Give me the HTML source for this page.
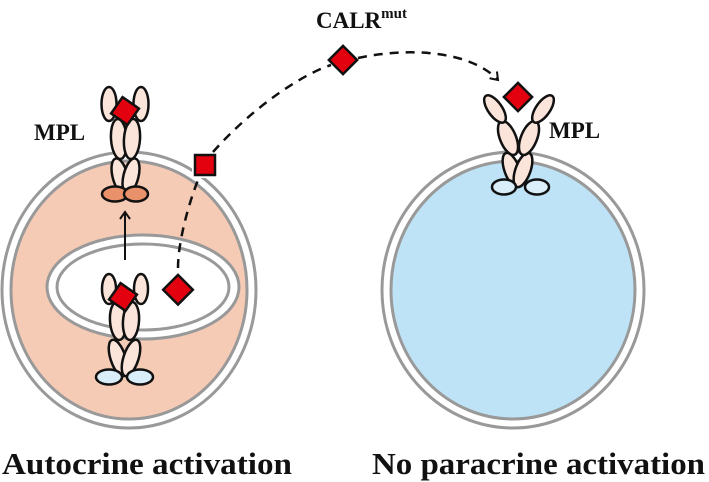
<!DOCTYPE html>
<html><head><meta charset="utf-8"><style>
html,body{margin:0;padding:0;background:#fff;width:709px;height:482px;overflow:hidden}
svg{display:block}
text{font-family:"Liberation Serif",serif;font-weight:bold;fill:#111}
</style></head><body>
<svg width="709" height="482" viewBox="0 0 709 482" xmlns="http://www.w3.org/2000/svg">
<defs>
<marker id="ah" markerWidth="12" markerHeight="12" refX="8" refY="6" orient="auto" markerUnits="userSpaceOnUse">
<path d="M1,1 L8,6 L1,11" fill="none" stroke="#111" stroke-width="2"/>
</marker>
</defs>
<!-- left cell -->
<ellipse cx="129" cy="290" rx="127" ry="138" fill="#fff" stroke="#999" stroke-width="3"/>
<ellipse cx="129" cy="290" rx="118" ry="129" fill="#f6cbb5" stroke="#999" stroke-width="3"/>
<ellipse cx="143" cy="287" rx="96" ry="52" fill="#fff" stroke="#999" stroke-width="3"/>
<ellipse cx="143" cy="287" rx="86" ry="43" fill="#fff" stroke="#999" stroke-width="3"/>
<!-- right cell -->
<ellipse cx="513" cy="290" rx="131" ry="138" fill="#fff" stroke="#999" stroke-width="3"/>
<ellipse cx="513" cy="290" rx="122" ry="129" fill="#bfe3f6" stroke="#999" stroke-width="3"/>

<g stroke="#111" stroke-width="2.5" fill="#fbe5da">
<!-- top-left receptor -->
<ellipse cx="120" cy="176" rx="7.5" ry="18" transform="rotate(-14 120 176)"/>
<ellipse cx="131" cy="176" rx="7.5" ry="18" transform="rotate(14 131 176)"/>
<ellipse cx="119" cy="139" rx="8" ry="20" transform="rotate(-4 119 139)"/>
<ellipse cx="132" cy="139" rx="8" ry="20" transform="rotate(4 132 139)"/>
<ellipse cx="109" cy="104" rx="7.5" ry="17"/>
<ellipse cx="141" cy="104" rx="7.5" ry="17"/>
<ellipse cx="115" cy="194" rx="13" ry="7.5" fill="#e9916a"/>
<ellipse cx="136" cy="194" rx="12" ry="7.5" fill="#e9916a"/>
<!-- bottom-left receptor -->
<ellipse cx="118" cy="358" rx="7.5" ry="19" transform="rotate(-18 118 358)"/>
<ellipse cx="131" cy="358" rx="7.5" ry="19" transform="rotate(18 131 358)"/>
<ellipse cx="118" cy="321" rx="8" ry="19" transform="rotate(-4 118 321)"/>
<ellipse cx="131" cy="321" rx="8" ry="19" transform="rotate(4 131 321)"/>
<ellipse cx="109" cy="289" rx="7" ry="15"/>
<ellipse cx="141" cy="289" rx="7" ry="15"/>
<ellipse cx="109" cy="377" rx="13" ry="7.5" fill="#d9eef8"/>
<ellipse cx="140" cy="377" rx="13" ry="7.5" fill="#d9eef8"/>
<!-- right receptor -->
<ellipse cx="512" cy="170" rx="7.5" ry="18" transform="rotate(-20 512 170)"/>
<ellipse cx="523" cy="170" rx="7.5" ry="18" transform="rotate(20 523 170)"/>
<ellipse cx="508" cy="138" rx="8" ry="18" transform="rotate(-22 508 138)"/>
<ellipse cx="529" cy="138" rx="8" ry="18" transform="rotate(22 529 138)"/>
<ellipse cx="495" cy="109" rx="7" ry="16" transform="rotate(-35 495 109)"/>
<ellipse cx="543" cy="109" rx="7" ry="16" transform="rotate(35 543 109)"/>
<ellipse cx="504" cy="187" rx="12" ry="7.5" fill="#d9eef8"/>
<ellipse cx="537" cy="187" rx="12" ry="7.5" fill="#d9eef8"/>
</g>
<!-- diamonds -->
<g fill="#e3000f" stroke="#111" stroke-width="2.5">
<rect x="115" y="101" width="20" height="20" transform="rotate(35 125 111)"/>
<rect x="113" y="287" width="20" height="20" transform="rotate(35 123 297)"/>
<rect x="168" y="279" width="21" height="21" transform="rotate(45 178 289)"/>
<rect x="333" y="50" width="20" height="20" transform="rotate(45 343 60)"/>
<rect x="508" y="87" width="20" height="20" transform="rotate(45 518 97)"/>
</g>
<rect x="192" y="152" width="26" height="26" fill="#fff"/>
<rect x="195" y="155" width="20" height="20" fill="#e3000f" stroke="#111" stroke-width="2.5"/>
<!-- arrows -->
<line x1="125" y1="260" x2="125" y2="212" stroke="#111" stroke-width="2" marker-end="url(#ah)"/>
<path d="M178,268 C178,240 190,200 198,180" fill="none" stroke="#111" stroke-width="2.5" stroke-dasharray="9,7"/>
<path d="M213,152 C250,110 300,75 331,65" fill="none" stroke="#111" stroke-width="2.5" stroke-dasharray="9,7"/>
<path d="M358,58 C420,45 475,55 498,80" fill="none" stroke="#111" stroke-width="2.5" stroke-dasharray="9,7" marker-end="url(#ah)"/>
<!-- labels -->
<text x="34" y="140" font-size="23">MPL</text>
<text x="549" y="138" font-size="23">MPL</text>
<text x="316" y="28" font-size="23">CALR<tspan font-size="15" dy="-10">mut</tspan></text>
<text x="2" y="474" font-size="31" textLength="290" lengthAdjust="spacingAndGlyphs">Autocrine activation</text>
<text x="372" y="474" font-size="31" textLength="333" lengthAdjust="spacingAndGlyphs">No paracrine activation</text>
</svg>
</body></html>
